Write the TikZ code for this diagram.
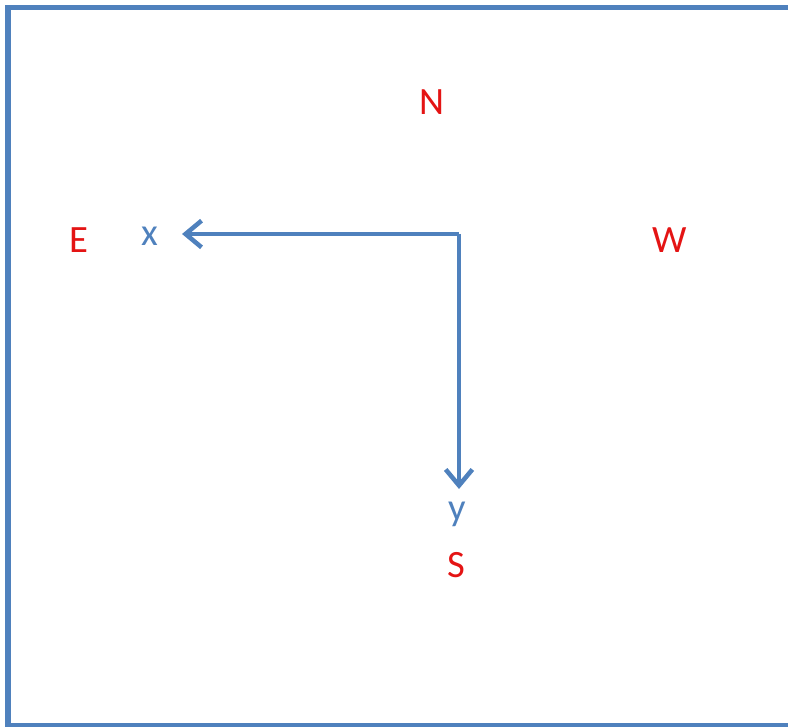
\documentclass[tikz,border=0pt]{standalone}
\usepackage{fontspec}
\setmainfont{Carlito}
\usetikzlibrary{arrows.meta}
\definecolor{axisblue}{RGB}{79,129,189}
\definecolor{compassred}{RGB}{228,20,20}
\begin{document}
\begin{tikzpicture}[
  x=0.75pt, y=-0.75pt,
  every node/.style = {inner sep=0pt, font=\fontsize{29}{34}\selectfont},
  compass/.style = {text=compassred},
  axislabel/.style = {text=axisblue},
  axis/.style = {draw=axisblue, line width=3.6pt,
    -{Straight Barb[length=12pt, width=20pt, line width=3.4pt]}}
  ]
  \useasboundingbox (0,0) rectangle (788,727);
  \clip (0,0) rectangle (788,727);
  \draw[axisblue, line width=4.2pt] (8,7.5) rectangle (840,725.5);
  \coordinate (o) at (459,234);
  \coordinate (xend) at (182,234);
  \coordinate (yend) at (459,489);
  \draw[axis] (o) -- (xend);
  \draw[axis] (o) -- (yend);
  \node[axislabel] (x) at (150,236) {x};
  \node[axislabel] (y) at (457,514) {y};
  \node[compass] (N) at (432,102) {N};
  \node[compass] (E) at (79,240) {E};
  \node[compass] (W) at (670,240) {W};
  \node[compass] (S) at (456,565) {S};
\end{tikzpicture}
\end{document}
